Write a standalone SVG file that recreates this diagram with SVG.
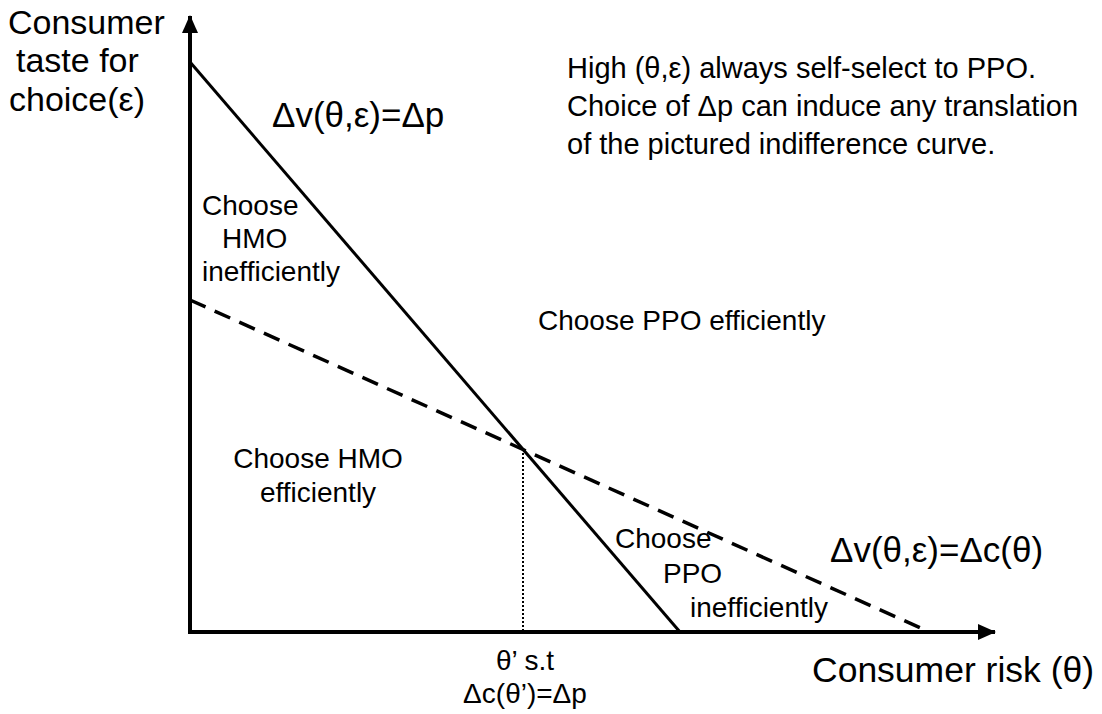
<svg xmlns="http://www.w3.org/2000/svg" width="1102" height="714" viewBox="0 0 1102 714">
  <style>
    text { font-family: "Liberation Sans", Arial, sans-serif; fill: #000; }
    .axis-label { font-size: 34px; }
    .x-label { font-size: 35.5px; }
    .curve-label { font-size: 35px; }
    .region { font-size: 28px; }
    .note { font-size: 29px; }
    .axis { stroke: #000; stroke-width: 4; fill: none; }
    .solid { stroke: #000; stroke-width: 3; fill: none; }
    .dashed { stroke: #000; stroke-width: 3.5; fill: none; stroke-dasharray: 17 10; }
    .dotted { stroke: #000; stroke-width: 2; fill: none; stroke-dasharray: 2 2; }
  </style>
  <defs>
    <marker id="arrow" viewBox="0 0 18 16" refX="17" refY="8" markerWidth="18" markerHeight="16" markerUnits="userSpaceOnUse" orient="auto">
      <path d="M0,0 L18,8 L0,16 Z" fill="#000"/>
    </marker>
  </defs>
  <rect width="1102" height="714" fill="#fff"/>

  <!-- axes -->
  <g id="axes">
    <line class="axis" x1="190" y1="634" x2="190" y2="16" marker-end="url(#arrow)"/>
    <line class="axis" x1="188" y1="632" x2="995" y2="632" marker-end="url(#arrow)"/>
  </g>

  <!-- indifference lines and the threshold drop line -->
  <g id="connectors">
    <line class="solid" x1="190" y1="62" x2="680" y2="632"/>
    <line class="dashed" x1="190" y1="300" x2="925" y2="630"/>
    <line class="dotted" x1="523" y1="449" x2="523" y2="631"/>
  </g>

  <g id="y-axis-label">
    <text class="axis-label" x="8" y="34">Consumer</text>
    <text class="axis-label" x="16" y="72">taste for</text>
    <text class="axis-label" x="9" y="111">choice(ε)</text>
  </g>

  <g id="x-axis-label">
    <text class="x-label" x="812" y="682">Consumer risk (θ)</text>
  </g>

  <g id="price-line-label">
    <text class="curve-label" x="272" y="127">Δv(θ,ε)=Δp</text>
  </g>

  <g id="cost-line-label">
    <text class="curve-label" x="830" y="562">Δv(θ,ε)=Δc(θ)</text>
  </g>

  <g id="note">
    <text class="note" x="567" y="78">High (θ,ε) always self-select to PPO.</text>
    <text class="note" x="567" y="116">Choice of Δp can induce any translation</text>
    <text class="note" x="567" y="154">of the pictured indifference curve.</text>
  </g>

  <g id="hmo-inefficient">
    <text class="region" x="202" y="215">Choose</text>
    <text class="region" x="222" y="248">HMO</text>
    <text class="region" x="202" y="281">inefficiently</text>
  </g>

  <g id="ppo-efficient">
    <text class="region" x="538" y="330">Choose PPO efficiently</text>
  </g>

  <g id="hmo-efficient">
    <text class="region" x="318" y="468" text-anchor="middle">Choose HMO</text>
    <text class="region" x="318" y="502" text-anchor="middle">efficiently</text>
  </g>

  <g id="ppo-inefficient">
    <text class="region" x="615" y="548">Choose</text>
    <text class="region" x="663" y="583">PPO</text>
    <text class="region" x="690" y="617">inefficiently</text>
  </g>

  <g id="threshold-label">
    <text class="region" x="525" y="670" text-anchor="middle">θ’ s.t</text>
    <text class="region" x="525" y="703" text-anchor="middle">Δc(θ’)=Δp</text>
  </g>
</svg>
